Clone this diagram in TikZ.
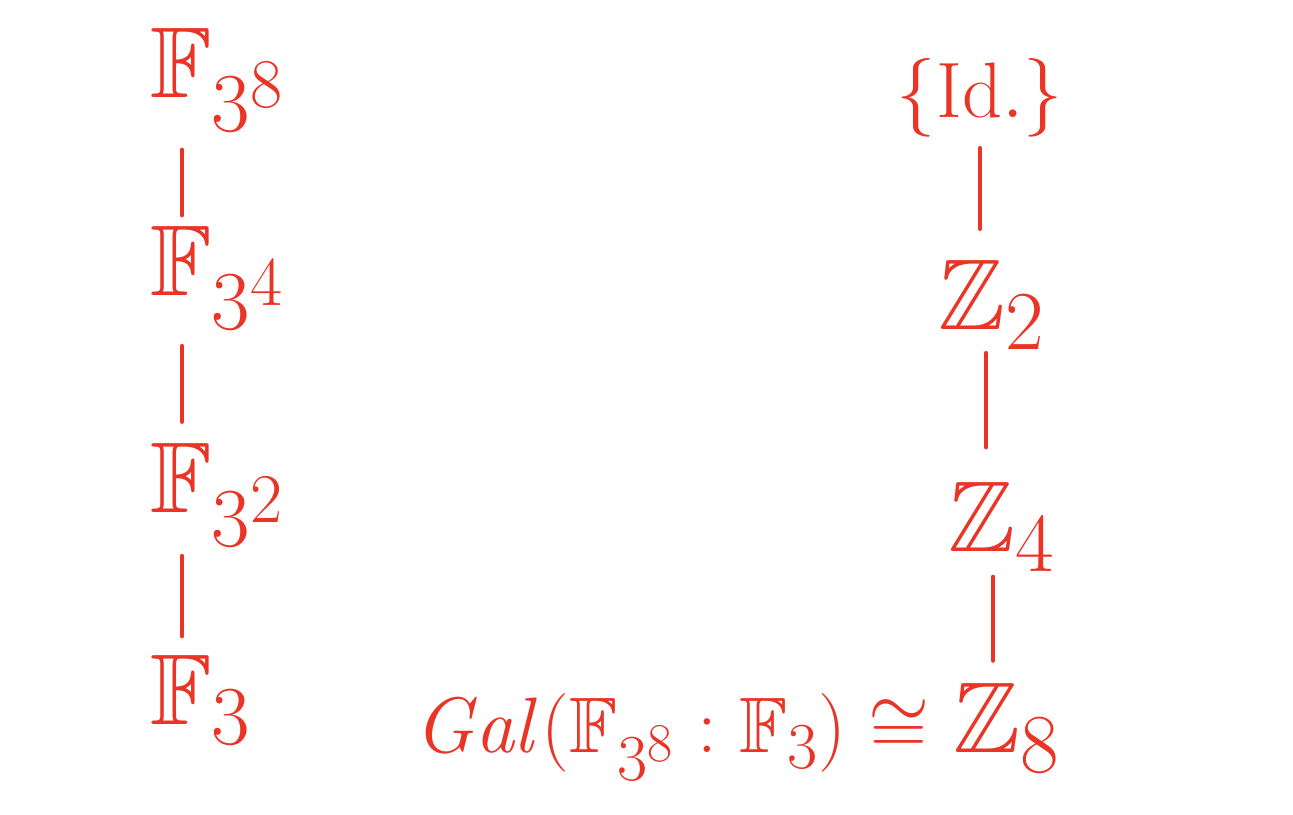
\documentclass[tikz,border=0pt]{standalone}
\usepackage{amsmath,amssymb}
\usepackage{graphicx}
\usetikzlibrary{positioning}
\definecolor{inkred}{RGB}{233,52,38}
\newcommand{\ink}[2][2.3]{\scalebox{#1}{#2}}
\tikzset{
  hand/.style={text=inkred,font=\fontsize{24.88}{30}\selectfont,inner sep=0pt},
  link/.style={draw=inkred,line width=2.6pt,line cap=round,shorten <=12pt,shorten >=12pt}}
\begin{document}
\begin{tikzpicture}[x=0.02cm,y=-0.02cm]
  \useasboundingbox (0,0) rectangle (1293,814);
  % fields
  \node[hand,anchor=west] (f8) at (150,80) {\ink{$\mathbb{F}_{3^8}$}};
  \node[hand,anchor=west] (f4) at (150,278) {\ink{$\mathbb{F}_{3^4}$}};
  \node[hand,anchor=west] (f2) at (150,495) {\ink{$\mathbb{F}_{3^2}$}};
  \node[hand,anchor=west] (f1) at (150,700) {\ink{$\mathbb{F}_3$}};
  \draw[link,shorten <=10pt,shorten >=6pt] (f8.south -| 182,0) -- (f4.north -| 182,0);
  \draw[link,shorten <=9pt] (f4.south -| 182,0) -- (f2.north -| 182,0);
  \draw[link,shorten <=5pt,shorten >=11pt] (f2.south -| 182,0) -- (f1.north -| 182,0);
  % groups
  \node[hand] (id) at (980,98) {\ink[1.8]{$\{\mathrm{Id.}\}$}};
  \node[hand,anchor=west] (z2) at (938,305) {\ink{$\mathbb{Z}_2$}};
  \node[hand,anchor=west] (z4) at (948,527) {\ink{$\mathbb{Z}_4$}};
  \node[hand,anchor=west] (z8) at (953,728) {\ink{$\mathbb{Z}_8$}};
  \node[hand,base left=13pt of z8] (gal) {\ink[1.8]{$\mathit{Gal}(\mathbb{F}_{3^8}:\mathbb{F}_3)\cong$}};
  \draw[link,shorten <=6pt,shorten >=18pt] (id.south -| 980,0) -- (z2.north -| 980,0);
  \draw[link,shorten <=2pt,shorten >=20pt] (z2.south -| 986,0) -- (z4.north -| 986,0);
  \draw[link,shorten <=3pt,shorten >=13pt] (z4.south -| 993,0) -- (z8.north -| 993,0);
\end{tikzpicture}
\end{document}
